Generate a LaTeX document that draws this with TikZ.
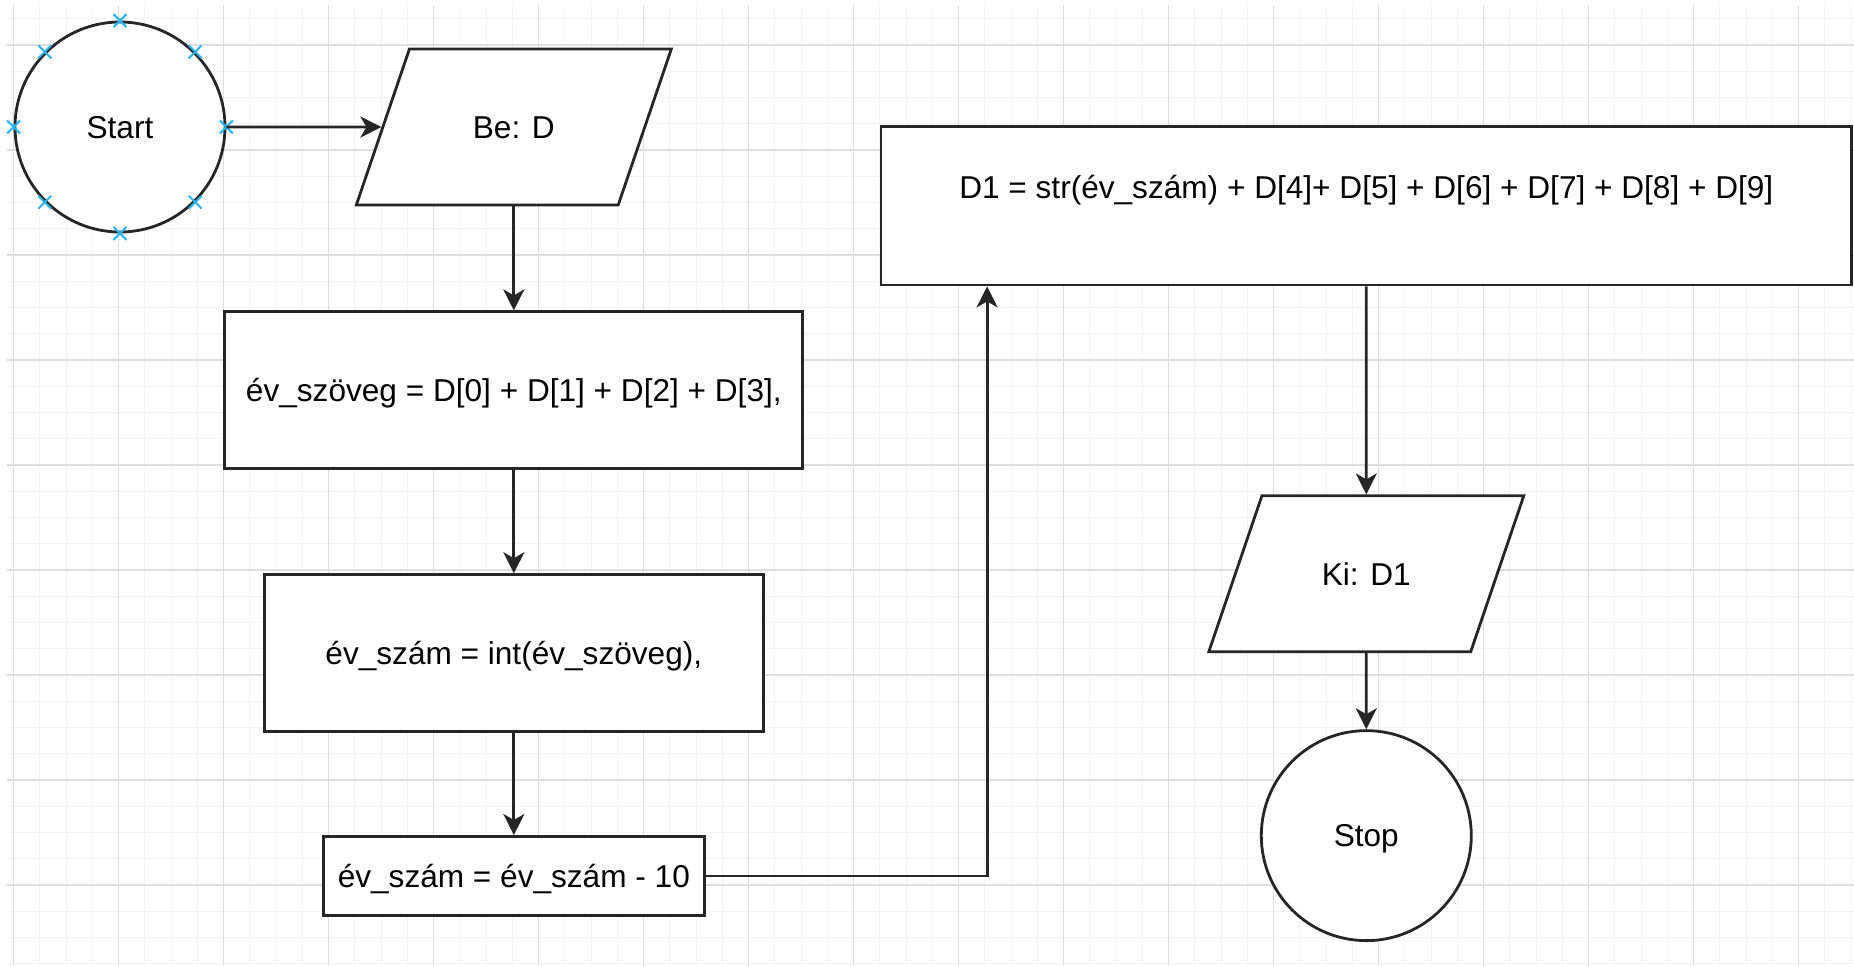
\documentclass[tikz,border=0pt]{standalone}
\usepackage{fontspec}
\setmainfont{Liberation Sans}
\usetikzlibrary{positioning, arrows.meta, shapes.geometric, shapes.misc}
\definecolor{gridminor}{RGB}{244,244,244}
\definecolor{gridmajor}{RGB}{222,222,222}
\definecolor{pointblue}{RGB}{41,182,242}

\begin{document}
\begin{tikzpicture}[x=0.5pt, y=-0.5pt, line width=1.4pt, color=black!85,
        >={Stealth[length=10.5pt, width=10.5pt, inset=3pt]},
        every node/.style={draw, fill=white, text=black, inner sep=0pt, text height=11.2pt, text depth=0pt, font=\fontsize{15.8}{18}\selectfont},
        terminal/.style={circle, minimum size=105pt},
        iobox/.style={trapezium, trapezium left angle=71.2, trapezium right angle=108.8, trapezium stretches body,
            inner xsep=0pt, inner ysep=33.4pt, minimum width=157.5pt},
        procbox/.style={rectangle, minimum height=78.5pt},
        xmark/.style={cross out, draw=pointblue, fill=none, line width=1pt, text height=0pt, minimum size=5.5pt}]
    \useasboundingbox (0,0) rectangle (1854,966);
    \fill[white] (0,0) rectangle (1854,966);
    \foreach \i in {0,...,70}
        \draw[gridminor, line width=0.5pt] ({13.5+26.25*\i},5) -- ({13.5+26.25*\i},966);
    \foreach \j in {0,...,36}
        \draw[gridminor, line width=0.5pt] (7,{18.75+26.25*\j}) -- (1854,{18.75+26.25*\j});
    \foreach \i in {0,...,17}
        \draw[gridmajor, line width=0.7pt] ({13.5+105*\i},5) -- ({13.5+105*\i},966);
    \foreach \j in {0,...,8}
        \draw[gridmajor, line width=0.7pt] (7,{45+105*\j}) -- (1854,{45+105*\j});
    \node[terminal] (start) at (120,127) {Start};
    \node[iobox, right=77.5pt of start] (be) {Be: D};
    \node[procbox, minimum width=289pt, below=52pt of be] (evszoveg) {év\_szöveg = D[0] + D[1] + D[2] + D[3],};
    \node[procbox, minimum width=249.5pt, below=51.5pt of evszoveg] (evszam) {év\_szám = int(év\_szöveg),};
    \node[procbox, minimum width=190.5pt, minimum height=39.5pt, below=51pt of evszam] (minus) {év\_szám = év\_szám - 10};
    \node[procbox, minimum width=485.3pt, minimum height=79.25pt, text depth=18.2pt] (d1) at (1366.3,205.75) {D1 = str(év\_szám) + D[4]+ D[5] + D[6] + D[7] + D[8] + D[9]};
    \node[iobox, below=104pt of d1] (ki) {Ki: D1};
    \node[terminal, below=38pt of ki] (stop) {Stop};
    \foreach \a in {0,45,...,315}
        \node[xmark] at (start.\a) {};
    \draw[->] (start.east) -- (be);
    \draw[->] (be.south) -- (evszoveg.north);
    \draw[->] (evszoveg) -- (evszam);
    \draw[->] (evszam) -- (minus);
    \draw[->] (minus.east) -| ([xshift=53.75pt]d1.south west);
    \draw[->] (d1) -- (ki);
    \draw[->] (ki) -- (stop);
\end{tikzpicture}
\end{document}
